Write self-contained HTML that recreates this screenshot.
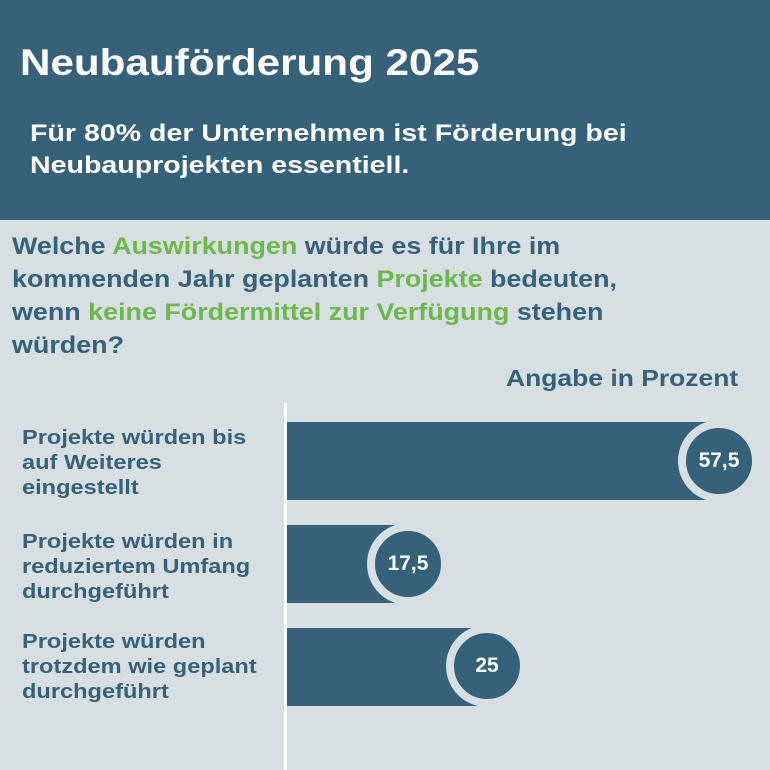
<!DOCTYPE html>
<html><head><meta charset="utf-8"><style>
body{margin:0;width:770px;height:770px;overflow:hidden;background:#d7dfe3;font-family:"Liberation Sans",sans-serif;position:relative}
.hdr{position:absolute;left:0;top:0;width:770px;height:220px;background:#35617a;color:#fff}
.t{position:absolute;left:20px;top:42px;font-size:37px;font-weight:bold;transform:scaleX(1.14);transform-origin:left;white-space:nowrap}
.s{position:absolute;left:30px;top:118px;font-size:24px;font-weight:bold;line-height:32px;transform:scaleX(1.19);transform-origin:left;white-space:nowrap}
.q{position:absolute;left:12px;top:230px;font-size:24px;font-weight:bold;line-height:33px;color:#35617a;transform:scaleX(1.12);transform-origin:left;white-space:nowrap}
.g{color:#6cb84a}
.a{position:absolute;left:506px;top:365px;font-size:23px;font-weight:bold;color:#35617a;transform:scaleX(1.15);transform-origin:left;white-space:nowrap}
.l{position:absolute;left:22px;font-size:20px;font-weight:bold;line-height:25px;color:#35617a;transform:scaleX(1.18);transform-origin:left;white-space:nowrap}
.ax{position:absolute;left:284px;top:403px;width:3px;height:367px;background:#fff}
.b{position:absolute;left:287px;height:78px;background:#35617a}
.c{position:absolute;width:66px;height:66px;border-radius:50%;background:#35617a;border:8px solid #d7dfe3;color:#fff;font-size:21px;font-weight:bold;text-align:center;line-height:66px}
</style></head><body>
<div class="hdr"><div class="t">Neubauförderung 2025</div>
<div class="s">Für 80% der Unternehmen ist Förderung bei<br>Neubauprojekten essentiell.</div></div>
<div class="q">Welche <span class="g">Auswirkungen</span> würde es für Ihre im<br>kommenden Jahr geplanten <span class="g">Projekte</span> bedeuten,<br>wenn <span class="g">keine Fördermittel zur Verfügung</span> stehen<br>würden?</div>
<div class="a">Angabe in Prozent</div>
<div class="l" style="top:426px">Projekte würden bis<br>auf Weiteres<br>eingestellt</div>
<div class="l" style="top:530px">Projekte würden in<br>reduziertem Umfang<br>durchgeführt</div>
<div class="l" style="top:630px">Projekte würden<br>trotzdem wie geplant<br>durchgeführt</div>
<div class="ax"></div>
<div class="b" style="top:422px;width:420px"></div>
<div class="c" style="left:678px;top:420px">57,5</div>
<div class="b" style="top:525px;width:112px"></div>
<div class="c" style="left:367px;top:523px">17,5</div>
<div class="b" style="top:628px;width:191px"></div>
<div class="c" style="left:446px;top:625px">25</div>
</body></html>
